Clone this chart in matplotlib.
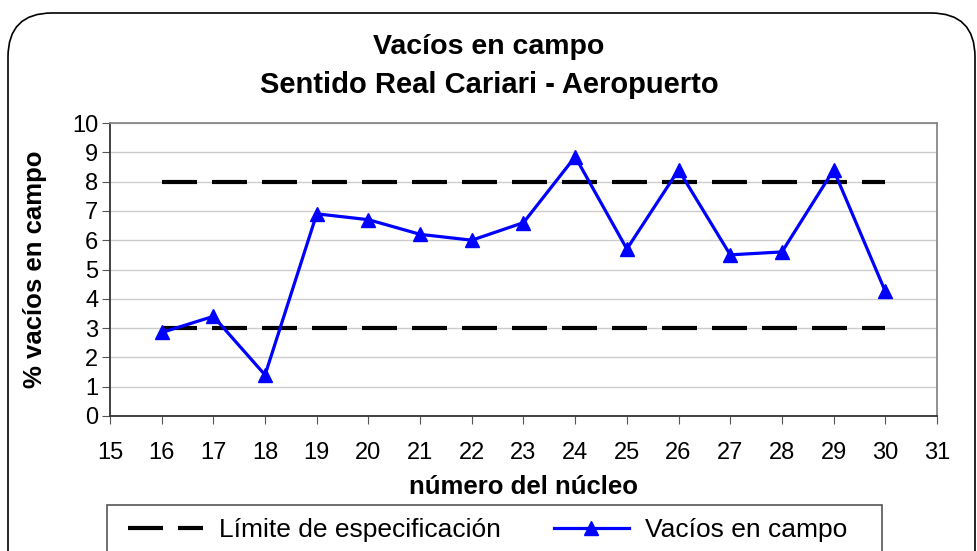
import matplotlib
matplotlib.use("Agg")
import matplotlib.pyplot as plt
from matplotlib.patches import FancyBboxPatch, Rectangle

plt.rcParams['font.family'] = ['Liberation Sans', 'DejaVu Sans']

nucleo = [16, 17, 18, 19, 20, 21, 22, 23, 24, 25, 26, 27, 28, 29, 30]
vacios = [2.85, 3.4, 1.4, 6.9, 6.7, 6.2, 6.0, 6.6, 8.85, 5.7, 8.4, 5.5, 5.6, 8.4, 4.25]
lim_x = [16, 30]
lim_inf = [3, 3]
lim_sup = [8, 8]
x_ticks = list(range(15, 32))
y_ticks = list(range(0, 11))

W, H = 978, 551
fig = plt.figure(figsize=(W / 100, H / 100), dpi=100)

# rounded outer border
border = FancyBboxPatch((8 / W, -60 / H), (975 - 8) / W, (H - 13 + 60) / H,
                        boxstyle="round,pad=0,rounding_size=0.045",
                        transform=fig.transFigure, fill=False,
                        edgecolor='black', linewidth=1.2, mutation_aspect=W / H)
fig.patches.append(border)

ax = fig.add_axes([110 / W, 1 - 416 / H, (937 - 110) / W, (416 - 123) / H])

dash = (0, (8.4, 3.6))
ax.plot(lim_x, lim_sup, color='black', linewidth=3.0, linestyle=dash,
        label='Límite de especificación')
ax.plot(lim_x, lim_inf, color='black', linewidth=3.0, linestyle=dash)
ax.plot(nucleo, vacios, color='#0000FF', linewidth=2.3, marker='^', markersize=10,
        label='Vacíos en campo')

ax.set_xlim(15, 31)
ax.set_ylim(0, 10)
ax.set_xticks(x_ticks)
ax.set_yticks(y_ticks)
ax.tick_params(axis='x', labelsize=17, direction='out', length=6, pad=13, color='#555555')
ax.tick_params(axis='y', labelsize=17, direction='out', length=5.5, pad=3, color='#555555')
ax.grid(axis='y', color='#cccccc', linewidth=1)
ax.set_axisbelow(True)
for s in ['left', 'bottom']:
    ax.spines[s].set_color('#333333')
    ax.spines[s].set_linewidth(1.3)
for s in ['top', 'right']:
    ax.spines[s].set_color('#888888')
    ax.spines[s].set_linewidth(1.3)

ax.set_xlabel('número del núcleo', fontsize=18.5, fontweight='bold', labelpad=8)
ax.set_ylabel('% vacíos en campo', fontsize=18.5, fontweight='bold', labelpad=18)

fig.text(0.5, 1 - 47 / H, 'Vacíos en campo', ha='center', va='center',
         fontsize=20.5, fontweight='bold')
fig.text(0.5, 1 - 85 / H, 'Sentido Real Cariari - Aeropuerto', ha='center', va='center',
         fontsize=21, fontweight='bold')

# legend frame
frame = Rectangle((107 / W, -10 / H), (882 - 107) / W, (H - 505 + 10) / H,
                  transform=fig.transFigure, fill=False, edgecolor='#555555',
                  linewidth=1.2)
fig.patches.append(frame)

leg = fig.legend(loc='upper left', bbox_to_anchor=(128 / W, 1 - 518 / H),
                 ncol=2, fontsize=19, frameon=False,
                 handlelength=2.85, handletextpad=0.6,
                 columnspacing=2.0, borderpad=0, borderaxespad=0)

fig.savefig('out.png', dpi=100)
